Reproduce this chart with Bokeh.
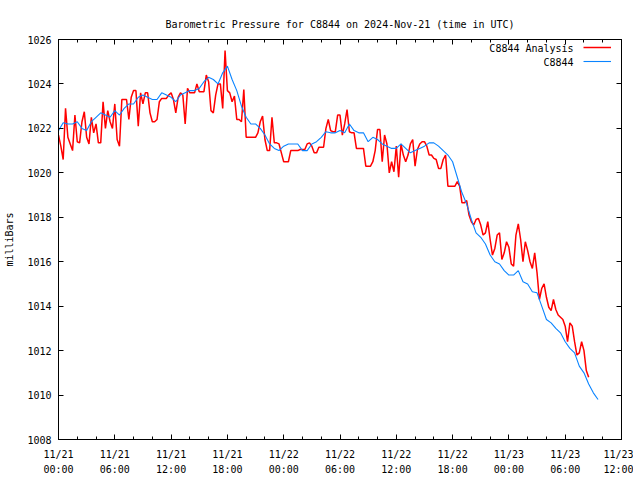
from bokeh.plotting import figure
from bokeh.models import Range1d, FixedTicker, LinearAxis, Legend, LegendItem, Label
from bokeh.embed import file_html
from bokeh.resources import INLINE

TITLE = "Barometric Pressure for C8844 on 2024-Nov-21 (time in UTC)"
Y_LABEL = "milliBars"
SERIES_NAMES = ["C8844 Analysis", "C8844"]
X_TICK_HOURS = [0, 6, 12, 18, 24, 30, 36, 42, 48, 54, 60]
X_TICK_LABELS = ["11/21\n00:00", "11/21\n06:00", "11/21\n12:00", "11/21\n18:00",
                 "11/22\n00:00", "11/22\n06:00", "11/22\n12:00", "11/22\n18:00",
                 "11/23\n00:00", "11/23\n06:00", "11/23\n12:00"]
X_MINOR_HOURS = list(range(0, 61, 2))
Y_TICKS = [1008, 1010, 1012, 1014, 1016, 1018, 1020, 1022, 1024, 1026]

# hours since 11/21 00:00 UTC, sampled every 15 min
ANALYSIS_STEP_H = 0.25
analysis_mb = [
    1021.7, 1021.2, 1020.6, 1022.9, 1021.6, 1021.3, 1021.0, 1022.6,
    1021.4, 1021.35, 1022.3, 1022.75, 1021.6, 1021.3, 1022.5, 1021.8,
    1022.2, 1021.35, 1021.35, 1023.2, 1022.0, 1022.8, 1022.3, 1022.0,
    1023.1, 1021.5, 1021.2, 1023.3, 1023.3, 1023.3, 1022.4, 1023.4,
    1023.7, 1023.7, 1022.1, 1023.6, 1023.1, 1023.6, 1023.6, 1022.7,
    1022.3, 1022.3, 1022.4, 1023.2, 1023.35, 1023.35, 1023.35, 1023.5,
    1023.6, 1023.3, 1022.7, 1023.4, 1023.6, 1023.5, 1022.2, 1023.8,
    1023.6, 1023.6, 1023.6, 1024.0, 1023.65, 1023.65, 1023.65, 1024.4,
    1024.1, 1022.8, 1022.7, 1023.5, 1024.0, 1024.0, 1022.9, 1025.5,
    1023.7, 1023.6, 1023.2, 1023.45, 1022.4, 1022.4, 1022.3, 1023.75,
    1021.6, 1021.6, 1021.6, 1021.6, 1021.6, 1021.8, 1022.3, 1022.55,
    1021.5, 1021.0, 1021.0, 1022.5, 1021.35, 1021.35, 1021.3, 1020.9,
    1020.5, 1020.5, 1020.5, 1021.0, 1021.0, 1021.0, 1021.0, 1021.05,
    1021.05, 1021.05, 1021.3, 1021.35, 1021.2, 1020.9, 1020.9, 1021.15,
    1021.15, 1021.15, 1022.0, 1022.4, 1021.9, 1021.85, 1021.85, 1022.6,
    1022.6, 1021.7, 1022.2, 1022.85, 1021.85, 1021.8, 1021.8, 1021.1,
    1021.1, 1021.1, 1021.1, 1020.3, 1020.3, 1020.3, 1020.5, 1021.0,
    1021.95, 1021.95, 1020.5, 1021.7, 1021.3, 1020.0, 1020.5, 1020.05,
    1021.2, 1019.8, 1021.3, 1020.8, 1020.5, 1020.8, 1021.3, 1021.5,
    1020.3, 1021.05, 1021.3, 1021.4, 1021.4, 1021.2, 1020.8, 1020.8,
    1020.65, 1020.6, 1020.2, 1020.2, 1020.6, 1020.8, 1019.4, 1019.4,
    1019.4, 1019.4, 1019.6, 1019.4, 1018.65, 1018.65, 1018.75, 1018.1,
    1017.8, 1017.65, 1017.9, 1017.95, 1017.65, 1017.2, 1017.3, 1017.8,
    1017.0, 1016.3, 1016.6, 1017.2, 1017.3, 1016.1, 1016.4, 1016.9,
    1016.65, 1015.9, 1015.8, 1017.2, 1017.7, 1017.0, 1016.0, 1016.9,
    1016.5, 1016.0, 1015.7, 1016.4, 1015.5, 1014.3, 1014.8, 1015.0,
    1014.4, 1013.95, 1013.8, 1014.3, 1013.85, 1013.6, 1013.5, 1013.4,
    1013.1, 1012.4, 1013.25, 1013.1, 1012.4, 1011.8, 1011.9, 1012.4,
    1012.0, 1011.1, 1010.8,
]

# sampled every 30 min
STATION_STEP_H = 0.5
station_mb = [
    1021.9, 1022.25, 1022.2, 1022.2, 1022.3, 1022.0, 1021.9, 1022.3,
    1022.5, 1022.7, 1022.6, 1022.5, 1022.8, 1022.6, 1022.9, 1023.1,
    1023.1, 1023.4, 1023.5, 1023.4, 1023.3, 1023.3, 1023.6, 1023.5,
    1023.4, 1023.2, 1023.5, 1023.6, 1023.7, 1023.7, 1023.8, 1024.1,
    1024.3, 1024.2, 1024.0, 1024.5, 1024.8, 1024.2, 1023.7, 1023.0,
    1022.5, 1022.2, 1022.2, 1022.0, 1021.7, 1021.3, 1021.1, 1021.0,
    1021.2, 1021.3, 1021.3, 1021.3, 1021.0, 1021.0, 1021.3, 1021.4,
    1021.6, 1021.85, 1021.8, 1021.8, 1021.9, 1021.8, 1022.2, 1021.9,
    1021.8, 1021.8, 1021.4, 1021.6, 1021.5, 1021.3, 1021.2, 1021.1,
    1021.1, 1021.3, 1021.1, 1020.9, 1021.0, 1021.1, 1021.2, 1021.35,
    1021.35, 1021.2, 1021.0, 1020.8, 1020.5, 1019.8, 1019.1, 1018.6,
    1017.9, 1017.3, 1017.1, 1016.8, 1016.3, 1016.0, 1015.9, 1015.6,
    1015.4, 1015.4, 1015.6, 1015.1, 1015.0, 1014.65, 1014.6, 1014.0,
    1013.4, 1013.25, 1013.0, 1012.8, 1012.4, 1012.1, 1011.9, 1011.3,
    1011.0, 1010.5, 1010.1, 1009.8,
]

analysis_h = [i * ANALYSIS_STEP_H for i in range(len(analysis_mb))]
station_h = [i * STATION_STEP_H for i in range(len(station_mb))]

FONT = "DejaVu Sans Mono"
FS = "10px"

p = figure(frame_width=563, frame_height=400, x_range=Range1d(0, 60), y_range=Range1d(1008, 1026),
           output_backend="svg", toolbar_location=None,
           min_border_left=58, min_border_right=12, min_border_top=39, min_border_bottom=38)
p.background_fill_color = "white"
p.border_fill_color = "white"
p.outline_line_color = "black"
p.outline_line_width = 1
p.grid.visible = False

p.title.text = TITLE
p.title.align = "center"
p.title.text_font = FONT
p.title.text_font_size = FS
p.title.text_font_style = "normal"
p.title.text_color = "black"
p.title.standoff = 19

xt = FixedTicker(ticks=X_TICK_HOURS, minor_ticks=X_MINOR_HOURS)
yt = FixedTicker(ticks=Y_TICKS, minor_ticks=[])

for ax in p.xaxis:
    ax.ticker = xt
    ax.major_label_overrides = {h: lab for h, lab in zip(X_TICK_HOURS, X_TICK_LABELS)}
    ax.major_label_text_line_height = 1.45
    ax.major_label_standoff = 9
for ax in p.yaxis:
    ax.ticker = yt
    ax.axis_label = Y_LABEL
    ax.axis_label_text_font = FONT
    ax.axis_label_text_font_size = FS
    ax.axis_label_text_font_style = "normal"
    ax.axis_label_text_color = "black"
    ax.axis_label_standoff = 9
    ax.major_label_standoff = 7

top = LinearAxis(ticker=xt, major_label_overrides={h: "" for h in X_TICK_HOURS},
                 major_label_standoff=0, major_label_text_color=None)
right = LinearAxis(ticker=yt, major_label_overrides={v: "" for v in Y_TICKS},
                   major_label_standoff=0, major_label_text_color=None)
p.add_layout(top, "above")
p.add_layout(right, "right")

for ax in list(p.xaxis) + list(p.yaxis) + [top, right]:
    ax.axis_line_color = "black"
    ax.major_tick_line_color = "black"
    ax.minor_tick_line_color = "black"
    ax.major_tick_in = 5
    ax.major_tick_out = 0
    ax.minor_tick_in = 3
    ax.minor_tick_out = 0
    ax.major_label_text_font = FONT
    ax.major_label_text_font_size = FS
for ax in list(p.xaxis) + list(p.yaxis):
    ax.major_label_text_color = "black"

red = p.line(analysis_h, analysis_mb, line_color="#ff0000", line_width=1.5)
blue = p.line(station_h, station_mb, line_color="#0a84ff", line_width=1.1)

legend = Legend(items=[LegendItem(label=" ", renderers=[red]),
                       LegendItem(label=" ", renderers=[blue])],
                location=(525, 371), glyph_width=28, glyph_height=14,
                label_width=0, label_height=14, label_standoff=0, spacing=0,
                padding=0, margin=0, border_line_color=None,
                background_fill_alpha=0, label_text_font_size="10px")
p.add_layout(legend)

for name, yv in zip(SERIES_NAMES, [1025.6, 1024.96]):
    p.add_layout(Label(x=54.9, y=yv, text=name, text_align="right", text_baseline="middle",
                       text_font=FONT, text_font_size=FS, text_color="black"))

open("out.html", "w").write(file_html(p, INLINE))
